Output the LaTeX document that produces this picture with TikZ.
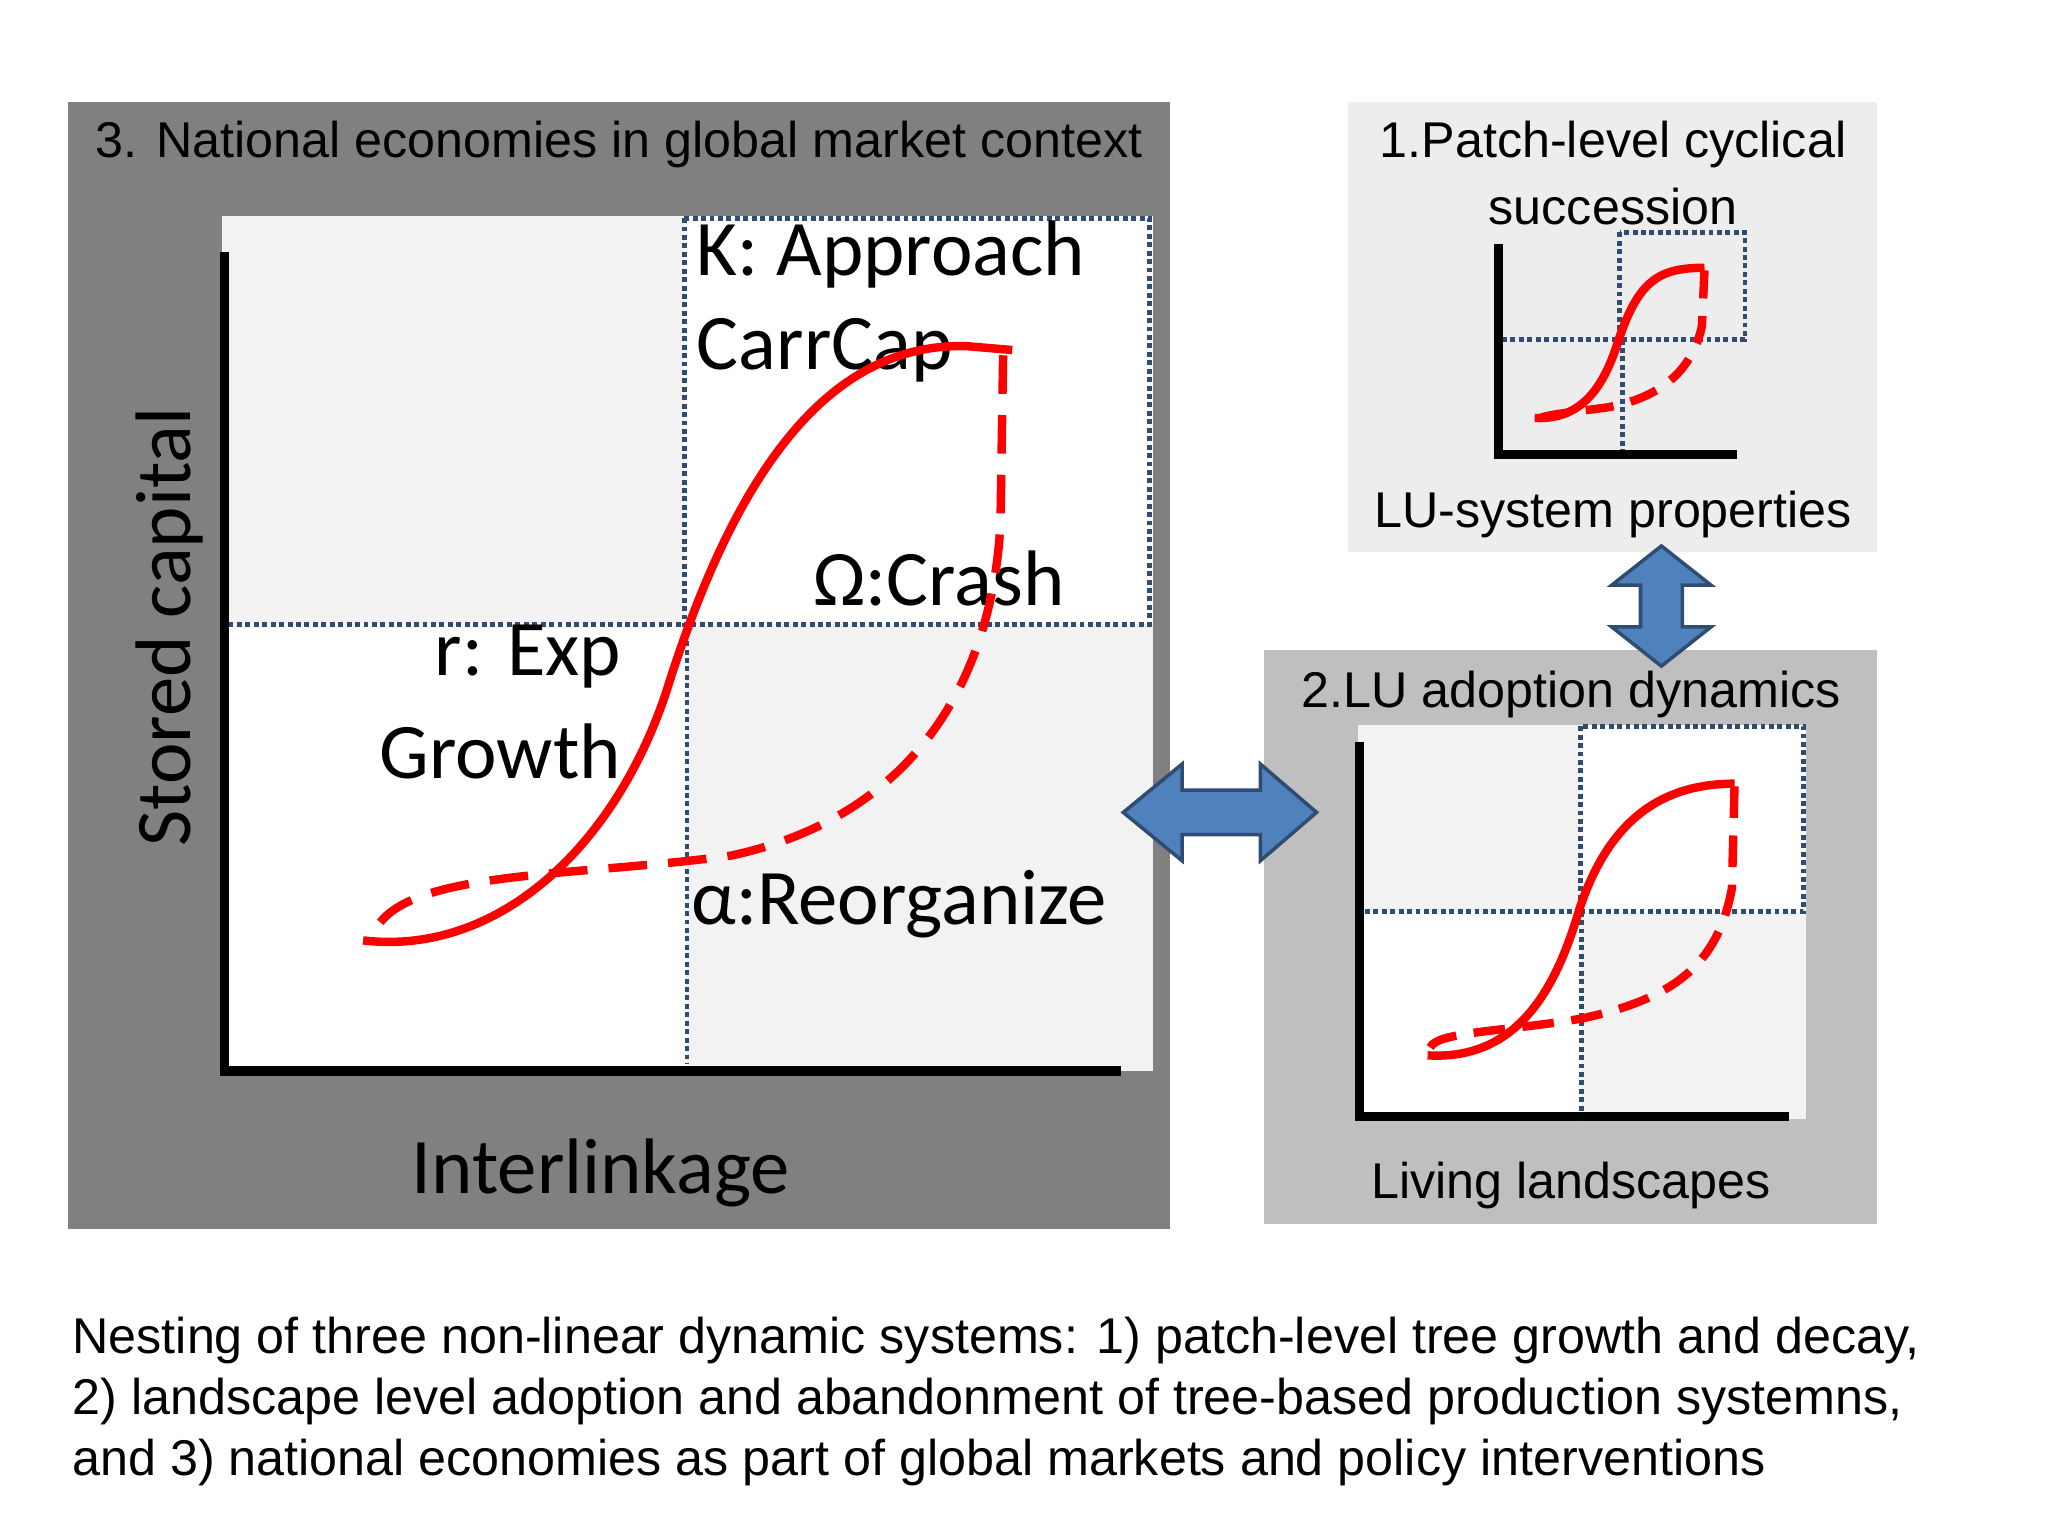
\documentclass[tikz,border=0pt]{standalone}
\usepackage{fontspec}
\setmainfont{Liberation Sans}
\newfontfamily\carl{Carlito}
\begin{document}
\begin{tikzpicture}[x=0.01306cm,y=-0.01306cm,
  dot/.style={densely dotted,line width=1.4pt,color=arrblue!60!black},
  ax/.style={line width=2.6pt,black},
  rc/.style={red,line width=2.4pt},
  rd/.style={red,line width=2.4pt,dash pattern=on 11pt off 6pt},
  big/.style={font=\carl\fontsize{22.4}{26}\selectfont,inner sep=0pt},
  med/.style={font=\fontsize{14.3}{17}\selectfont,inner sep=0pt},
  arr/.style={fill=arrblue,draw=arrblue!60!black,line width=1pt}]
\definecolor{arrblue}{HTML}{4F81BD}
\useasboundingbox (0,0) rectangle (1568,1176);
\fill[white] (0,0) rectangle (1568,1176);
% panel 3
\fill[black!50] (52,78) rectangle (896,941);
\node[med] (t3) at (474,111) {3. National economies in global market context};
\fill[white] (170,165) rectangle (883,820);
\fill[black!5] (170,165) rectangle (524,478);
\fill[black!5] (526,478) rectangle (883,820);
\draw[dot] (524,167) rectangle (880,478);
\draw[dot] (175,478) -- (524,478);
\draw[dot] (526,478) -- (526,815);
\draw[ax] (172,193) -- (172,820) -- (858,820);
\node[big,anchor=west] (k) at (533,195) {K: Approach};
\node[big,anchor=west] (cc) at (533,268) {CarrCap};
\node[big] (om) at (719,443) {Ω:Crash};
\node[big,anchor=east] (r1) at (476,503) {r: Exp};
\node[big,anchor=east] (r2) at (476,575) {Growth};
\node[big,anchor=west] (al) at (529,692) {α:Reorganize};
\node[big] (il) at (460,898) {Interlinkage};
\node[big,rotate=90] (sc) at (130,480) {Stored capital};
\draw[rc] (278,720) .. controls (380,732) and (470,650) .. (510,530) .. controls (560,370) and (630,262) .. (740,265) -- (775,268);
\draw[rd] (768,272) -- (766,400) .. controls (760,520) and (700,625) .. (560,655) .. controls (440,672) and (300,665) .. (285,718);
% panel 1
\fill[black!7] (1032,78) rectangle (1437,423);
\node[med] (t1a) at (1235,111) {1.Patch-level cyclical};
\node[med] (t1b) at (1235,158) {succession};
\node[med] (t1c) at (1235,394) {LU-system properties};
\draw[dot] (1240,178) rectangle (1336,260);
\draw[dot] (1150,260) -- (1240,260);
\draw[dot] (1242,260) -- (1242,346);
\draw[ax] (1147,187) -- (1147,348) -- (1330,348);
\draw[rc] (1175,320) .. controls (1215,322) and (1230,290) .. (1240,258) .. controls (1255,215) and (1270,205) .. (1305,205);
\draw[rd,dash pattern=on 8pt off 5pt] (1305,207) -- (1303,250) .. controls (1295,285) and (1270,305) .. (1230,312) .. controls (1200,316) and (1180,318) .. (1178,321);
% panel 2
\fill[black!25] (968,498) rectangle (1437,937);
\node[med] (t2) at (1203,532) {2.LU adoption dynamics};
\node[med] (t2b) at (1203,908) {Living landscapes};
\fill[white] (1040,555) rectangle (1383,857);
\fill[black!5] (1040,555) rectangle (1210,698);
\fill[black!5] (1211,698) rectangle (1383,857);
\draw[dot] (1210,556) rectangle (1381,698);
\draw[dot] (1045,698) -- (1210,698);
\draw[dot] (1211,698) -- (1211,852);
\draw[ax] (1041,568) -- (1041,855) -- (1370,855);
\draw[rc] (1093,808) .. controls (1160,812) and (1190,760) .. (1208,700) .. controls (1230,630) and (1270,600) .. (1328,600);
\draw[rd,dash pattern=on 9pt off 5pt] (1328,602) -- (1326,680) .. controls (1315,740) and (1280,765) .. (1210,780) .. controls (1150,790) and (1100,790) .. (1095,802);
% arrows
\draw[arr] (860,622) -- (905,585) -- (905,605) -- (965,605) -- (965,585) -- (1008,622) -- (965,659) -- (965,639) -- (905,639) -- (905,659) -- cycle;
\draw[arr] (1272,418) -- (1310,448) -- (1288,448) -- (1288,480) -- (1310,480) -- (1272,510) -- (1234,480) -- (1256,480) -- (1256,448) -- (1234,448) -- cycle;
% caption
\node[med,anchor=west] (c1) at (55,1026) {Nesting of three non-linear dynamic systems: 1) patch-level tree growth and decay,};
\node[med,anchor=west] (c2) at (55,1073) {2) landscape level adoption and abandonment of tree-based production systemns,};
\node[med,anchor=west] (c3) at (55,1120) {and 3) national economies as part of global markets and policy interventions};
\end{tikzpicture}
\end{document}
